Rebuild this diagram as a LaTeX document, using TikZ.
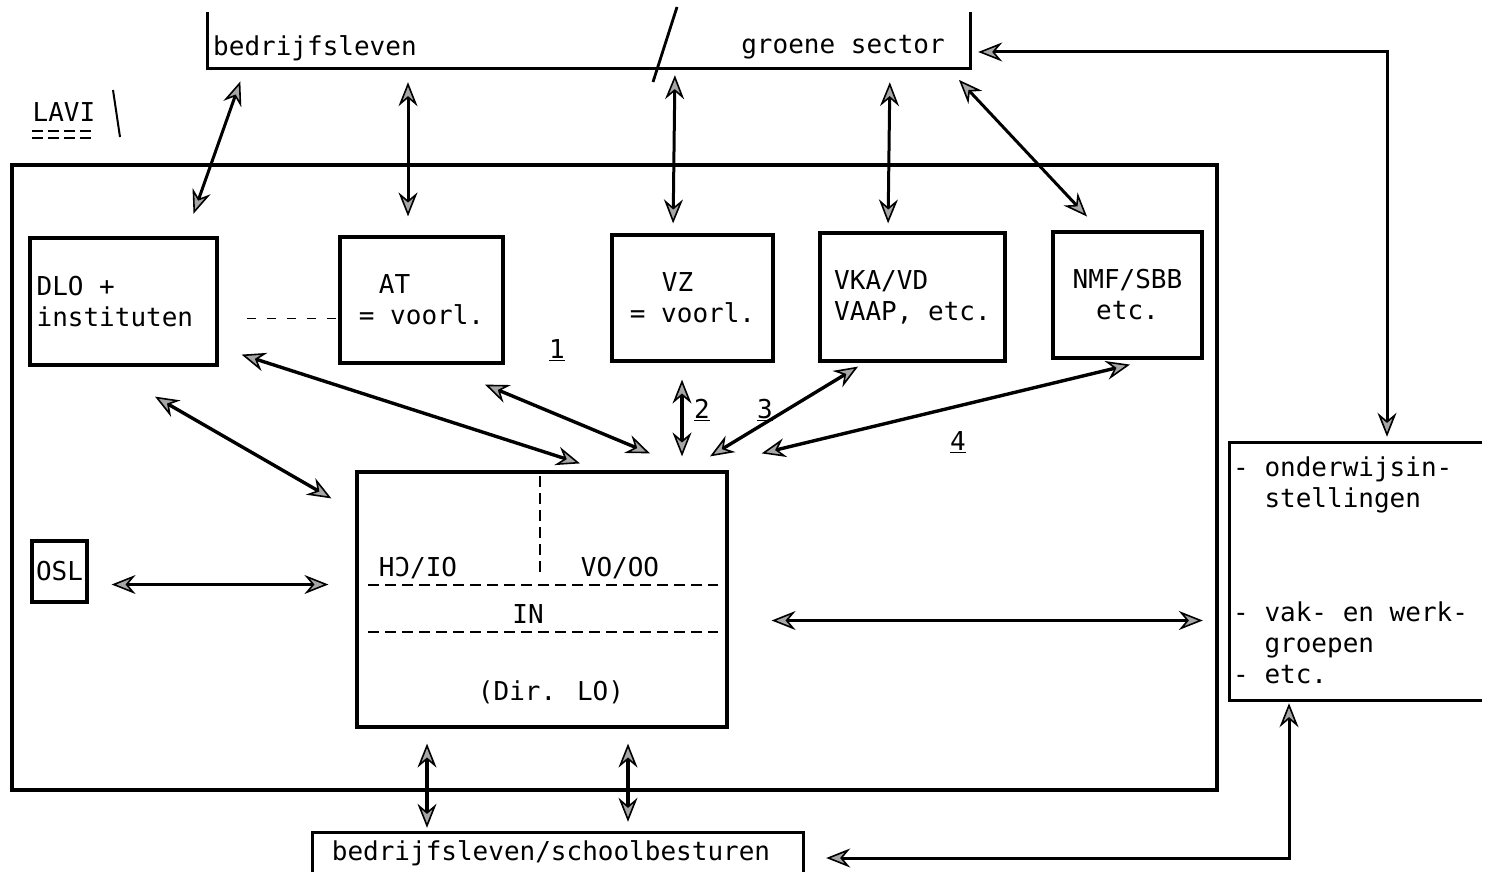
\documentclass[tikz,border=0pt]{standalone}
\usepackage{fontspec}
\setmainfont{DejaVu Sans Mono}
\usepackage{tikz}
\usetikzlibrary{positioning,arrows.meta,calc}

\begin{document}
\begin{tikzpicture}[x=1pt,y=-1pt,font=\fontsize{26}{31}\selectfont,
    dbl/.style={{Stealth[length=24pt,width=19pt,inset=8pt,fill=gray!70,line width=1.6pt]}-{Stealth[length=24pt,width=19pt,inset=8pt,fill=gray!70,line width=1.6pt]},line width=3.4pt},
    thindbl/.style={dbl,line width=3pt}]
            \tikzstyle{box}=[draw,rectangle,line width=3.2pt,inner sep=0pt]
            \tikzstyle{frame}=[rectangle,inner sep=0pt]
            \tikzstyle{cut}=[dash pattern=on 11pt off 6pt,line width=2.6pt]
            \useasboundingbox (0,0) rectangle (1485,872);
            % outside: bedrijfsleven / groene sector
            \node[frame,minimum width=762pt,minimum height=56pt](sector) at (589,40){};
            \draw[line width=3.2pt] (sector.north west) |- (sector.south east) -- (sector.north east);
            \node[anchor=base west,inner sep=0pt](bl) at (213,56){bedrijfsleven};
            \node[anchor=base east,inner sep=0pt](gs) at (945,54){groene sector};
            \draw[line width=2.8pt] (653,82) -- (677,7);
            % LAVI
            \node[inner sep=0pt](lavi) at (64,112){LAVI};
            \draw[dash pattern=on 11pt off 5pt,line width=2.2pt] ([yshift=-9pt]lavi.south west) -- ([yshift=-9pt]lavi.south east);
            \draw[dash pattern=on 11pt off 5pt,line width=2.2pt] ([yshift=-16pt]lavi.south west) -- ([yshift=-16pt]lavi.south east);
            \draw[line width=2pt] (113,90) -- (120,137);
            \node[box,minimum width=1205pt,minimum height=625pt](lv) at (614.5,477.5){};
            % members
            \node[box,minimum width=187pt,minimum height=127pt](dlo) at (123.5,301.5){};
            \node[right=8pt of dlo.west,inner sep=0pt,align=left](dlot){DLO +\\instituten};
            \node[box,minimum width=163pt,minimum height=126pt,align=left](at) at (421.5,300){\hspace{20pt}AT\\= voorl.};
            \node[box,minimum width=161pt,minimum height=126pt,align=left](vz) at (692.5,298){\hspace{32pt}VZ\\= voorl.};
            \node[box,minimum width=185pt,minimum height=128pt,align=left](vka) at (912.5,297){VKA/VD\\VAAP, etc.};
            \node[box,minimum width=149pt,minimum height=126pt,align=center](nmf) at (1127.5,295){NMF/SBB\\etc.};
            \node[box,minimum width=55pt,minimum height=61pt](osl) at (59.5,571.5){OSL};
            \draw[dash pattern=on 9pt off 11pt,line width=1.4pt,shorten <=28pt] ([yshift=-17pt]dlo.east) -- ([yshift=-17pt]dlo.east -| at.west);
            % directie LO
            \node[box,minimum width=370pt,minimum height=255pt](lo) at (542,599.5){};
            \draw[cut] ([xshift=-2pt,yshift=-6pt]lo.north) -- ++(0,100);
            \draw[cut] ([xshift=13pt,yshift=14.5pt]lo.west) -- ([xshift=-11pt,yshift=14.5pt]lo.east);
            \draw[cut] ([xshift=13pt,yshift=-32.5pt]lo.west) -- ([xshift=-11pt,yshift=-32.5pt]lo.east);
            \node(hcio) at (418,568){H\reflectbox{C}/IO};
            \node(vooo) at (620,568){VO/OO};
            \node(in) at (528,614){IN};
            \node(dir) at (551,692){(Dir. LO)};
            % onderwijs
            \node[frame,minimum width=252pt,minimum height=257pt](ow) at (1356,571.5){};
            \draw[line width=3.2pt] (ow.north east) -- (ow.north west) -- (ow.south west) -- (ow.south east);
            \node[anchor=west,inner sep=0pt,align=left](ow1) at (1233,485){- onderwijsin-\\\phantom{- }stellingen};
            \node[anchor=west,inner sep=0pt,align=left](ow2) at (1233,643){- vak- en werk-\\\phantom{- }groepen\\- etc.};
            % bedrijfsleven/schoolbesturen
            \node[frame,minimum width=490pt,minimum height=40pt](bs) at (558,853){};
            \draw[line width=3.2pt] (bs.south west) |- (bs.north east) -- (bs.south east);
            \node(bstext) at (551,853){bedrijfsleven/schoolbesturen};
            % connections
            \draw[thindbl,shorten <=14pt,shorten >=24pt] ([xshift=-344pt]sector.south) -- ([xshift=62pt]dlo.north);
            \draw[thindbl,shorten <=14pt,shorten >=19pt] ([xshift=-181pt]sector.south) -- ([xshift=-13.5pt]at.north);
            \draw[thindbl,shorten <=7pt,shorten >=10pt] ([xshift=86pt]sector.south) -- ([xshift=-19.5pt]vz.north);
            \draw[thindbl,shorten <=14pt,shorten >=8pt] ([xshift=301pt]sector.south) -- ([xshift=-24.5pt]vka.north);
            \draw[thindbl,shorten <=16pt,shorten >=19pt] ([xshift=359pt]sector.south) -- ([xshift=-27.5pt]nmf.north);
            \coordinate (ne) at (1387,52);
            \draw[thindbl,shorten <=8pt,shorten >=6pt] (sector.east |- ne) -- (ne) -- (ne |- ow.north);
            \coordinate (se) at (1289,858);
            \draw[thindbl,shorten <=23pt,shorten >=3pt] (bs.east |- se) -- (se) -- (se |- ow.south);
            \draw[dbl] ([xshift=23pt,yshift=12pt]dlo.south east) -- ([xshift=38pt,yshift=7pt]lo.north);
            \draw[dbl] ([xshift=31.5pt,yshift=-30pt]dlo.south) -- ([xshift=-24pt,yshift=-28pt]lo.north west);
            \draw[dbl] ([xshift=63.5pt,yshift=-20pt]at.south) -- ([xshift=108pt,yshift=17pt]lo.north);
            \draw[dbl] ([xshift=-10.5pt,yshift=-17pt]vz.south) -- ([xshift=140pt,yshift=14pt]lo.north);
            \draw[dbl] ([xshift=-54.5pt,yshift=-4pt]vka.south) -- ([xshift=168pt,yshift=14pt]lo.north);
            \draw[dbl] ([xshift=2.5pt,yshift=-5pt]nmf.south) -- ([xshift=33pt,yshift=17pt]lo.north east);
            \draw[dbl,shorten <=23pt,shorten >=27pt] ([yshift=-13pt]osl.east) -- ([yshift=-13pt]osl.east -| lo.west);
            \draw[dbl,shorten <=43pt,shorten >=27pt] ([yshift=-21pt]lo.east) -- ([yshift=-21pt]lo.east -| ow.west);
            \draw[dbl,shorten <=15pt,shorten >=5pt] ([xshift=-115pt]lo.south) -- ([xshift=-115pt]lo.south |- bs.north);
            \draw[dbl,shorten <=15pt,shorten >=11pt] ([xshift=86pt]lo.south) -- ([xshift=86pt]lo.south |- bs.north);
            % numbers
            \node(n1) at (557,350){\underline{1}};
            \node(n2) at (702,410){\underline{2}};
            \node(n3) at (765,410){\underline{3}};
            \node(n4) at (958,442){\underline{4}};
          \end{tikzpicture}
\end{document}
